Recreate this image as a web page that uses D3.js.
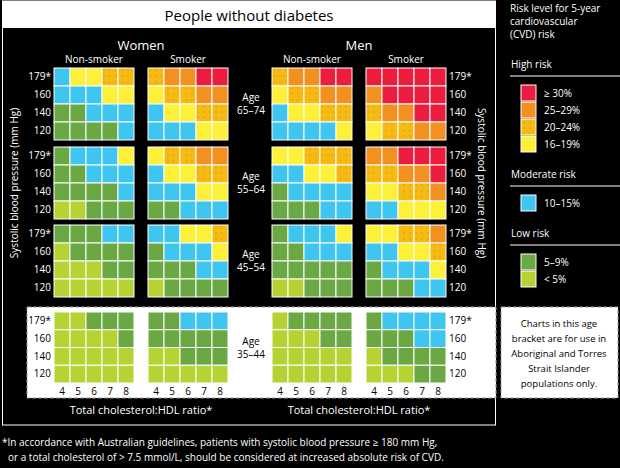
<!DOCTYPE html>
<html><head><meta charset="utf-8">
<script src="https://d3js.org/d3.v7.min.js"></script>
<style>body{margin:0;background:#000}text{font-family:"Open Sans",sans-serif}</style>
</head><body>
<div id="chart"></div>
<script>
// risk levels: 0 <5%, 1 5-9%, 2 10-15%, 3 16-19%, 4 20-24%, 5 25-29%, 6 >=30%
const levelColors = ["#b6d334", "#6aa844", "#3ec6f1", "#fdf038", "#f5bb12", "#f29020", "#ec1c3f"];
const ratios = [4, 5, 6, 7, 8];
const pressures = ["179*", "160", "140", "120"];
const ageBands = ["65–74", "55–64", "45–54", "35–44"];
const groups = ["Women non-smoker", "Women smoker", "Men non-smoker", "Men smoker"];

const risk6574 = [
  [[2,3,3,4,4],[2,2,2,3,3],[1,1,2,2,2],[1,1,1,1,2]],
  [[4,5,5,6,6],[3,4,4,5,5],[2,3,3,4,4],[2,2,2,3,3]],
  [[4,5,5,6,6],[3,4,4,5,5],[2,3,3,4,4],[2,2,2,2,3]],
  [[6,6,6,6,6],[5,6,6,6,6],[4,5,5,6,6],[3,4,4,5,5]]
];
const risk5564 = [
  [[1,2,2,2,3],[1,1,2,2,2],[1,1,1,1,2],[0,0,1,1,1]],
  [[3,4,4,5,5],[2,3,3,4,4],[2,2,2,3,3],[1,1,2,2,2]],
  [[3,3,4,4,4],[2,2,3,3,4],[1,2,2,2,2],[1,1,1,2,2]],
  [[5,5,6,6,6],[4,4,5,5,6],[3,3,4,4,5],[2,2,3,3,3]]
];
const risk4554 = [
  [[1,1,1,2,2],[0,1,1,1,1],[0,0,0,1,1],[0,0,0,0,0]],
  [[2,2,3,3,4],[1,2,2,2,3],[1,1,1,2,2],[0,1,1,1,1]],
  [[1,2,2,2,3],[1,1,2,2,2],[1,1,1,1,1],[0,0,1,1,1]],
  [[3,3,4,4,5],[2,2,3,3,4],[1,2,2,2,3],[1,1,1,2,2]]
];
const risk3544 = [
  [[0,0,1,1,1],[0,0,0,0,1],[0,0,0,0,0],[0,0,0,0,0]],
  [[1,1,2,2,2],[1,1,1,1,1],[0,0,1,1,1],[0,0,0,0,0]],
  [[0,1,1,1,1],[0,0,0,1,1],[0,0,0,0,0],[0,0,0,0,0]],
  [[1,2,2,2,2],[1,1,1,2,2],[0,1,1,1,1],[0,0,0,1,1]]
];
const bands = [risk6574, risk5564, risk4554, risk3544];

const legendHigh = ["≥ 30%", "25–29%", "20–24%", "16–19%"];
const legendMod = ["10–15%"];
const legendLow = ["5–9%", "< 5%"];

const W = 620, H = 468;
const svg = d3.select("#chart").append("svg").attr("width", W).attr("height", H);
const defs = svg.append("defs");
const pat = defs.append("pattern").attr("id", "dots").attr("width", 6).attr("height", 6)
  .attr("patternUnits", "userSpaceOnUse");
pat.append("rect").attr("width", 6).attr("height", 6).attr("fill", levelColors[4]);
pat.append("circle").attr("cx", 2).attr("cy", 2).attr("r", 0.6).attr("fill", "#e8641c");
const fillFor = l => l === 4 ? "url(#dots)" : levelColors[l];

// frame + title
svg.append("rect").attr("x", 2.5).attr("y", 1).attr("width", 493).attr("height", 424)
  .attr("fill", "none").attr("stroke", "#fff");
svg.append("rect").attr("x", 2.5).attr("y", 1).attr("width", 493).attr("height", 27).attr("fill", "#fff");
svg.append("text").attr("x", 249).attr("y", 21).attr("text-anchor", "middle")
  .attr("font-size", 15).attr("fill", "#000").text("People without diabetes");

// 35-44 box
svg.append("rect").attr("x", 27).attr("y", 307).attr("width", 469).attr("height", 91)
  .attr("fill", "#fff").attr("stroke", "#999").attr("stroke-dasharray", "4,2");

const panelX = [54, 148, 272, 366];
const bandY = [68, 147, 225, 312];
const pw = 80;
const bh = [72, 72, 72, 71];

const x = d3.scaleBand().domain(ratios).range([0, pw]);

bands.forEach((band, bi) => {
  const y = d3.scaleBand().domain(pressures).range([0, bh[bi]]);
  const light = bi === 3;
  band.forEach((grid, gi) => {
    const g = svg.append("g").attr("transform", `translate(${panelX[gi]},${bandY[bi]})`);
    const cells = [];
    grid.forEach((row, ri) => row.forEach((l, ci) => cells.push({p: pressures[ri], r: ratios[ci], l})));
    g.selectAll("rect").data(cells).join("rect")
      .attr("x", d => x(d.r)).attr("y", d => y(d.p))
      .attr("width", x.bandwidth()).attr("height", y.bandwidth())
      .attr("fill", d => fillFor(d.l)).attr("stroke", "#fff").attr("stroke-width", 1);
    if (light) {
      g.append("g").attr("transform", `translate(0,${bh[bi]})`)
        .call(d3.axisBottom(x).tickSize(0).tickPadding(5))
        .call(a => a.select(".domain").remove())
        .selectAll("text").attr("font-size", 10).attr("fill", "#000");
    }
  });
  const tc = light ? "#000" : "#fff";
  svg.append("g").attr("transform", `translate(${panelX[0]},${bandY[bi]})`)
    .call(d3.axisLeft(y).tickSize(0).tickPadding(3))
    .call(a => a.select(".domain").remove())
    .selectAll("text").attr("font-size", 10).attr("fill", tc);
  svg.append("g").attr("transform", `translate(${panelX[3] + pw},${bandY[bi]})`)
    .call(d3.axisRight(y).tickSize(0).tickPadding(3))
    .call(a => a.select(".domain").remove())
    .selectAll("text").attr("font-size", 10).attr("fill", tc);
  const ay = bandY[bi] + bh[bi] / 2;
  const at = svg.append("text").attr("text-anchor", "middle").attr("font-size", 10).attr("fill", tc);
  at.append("tspan").attr("x", 251).attr("y", ay - 3).text("Age");
  at.append("tspan").attr("x", 251).attr("y", ay + 10).text(ageBands[bi]);
});

// headers
const hdr = (t, xx, yy, s) => svg.append("text").attr("x", xx).attr("y", yy)
  .attr("text-anchor", "middle").attr("font-size", s).attr("fill", "#fff").text(t);
hdr("Women", 141, 50, 13); hdr("Men", 359, 50, 13);
hdr("Non-smoker", 94, 63, 10); hdr("Smoker", 188, 63, 10);
hdr("Non-smoker", 312, 63, 10); hdr("Smoker", 406, 63, 10);
hdr("Total cholesterol:HDL ratio*", 141, 414, 11); hdr("Total cholesterol:HDL ratio*", 359, 414, 11);
svg.append("text").attr("transform", "translate(18,183) rotate(-90)").attr("text-anchor", "middle")
  .attr("font-size", 10).attr("fill", "#fff").text("Systolic blood pressure (mm Hg)");
svg.append("text").attr("transform", "translate(478,183) rotate(90)").attr("text-anchor", "middle")
  .attr("font-size", 10).attr("fill", "#fff").text("Systolic blood pressure (mm Hg)");

// footnote
const fn = svg.append("text").attr("font-size", 10).attr("fill", "#fff");
fn.append("tspan").attr("x", 2).attr("y", 446)
  .text("*In accordance with Australian guidelines, patients with systolic blood pressure ≥ 180 mm Hg,");
fn.append("tspan").attr("x", 8).attr("y", 461)
  .text("or a total cholesterol of > 7.5 mmol/L, should be considered at increased absolute risk of CVD.");

// legend
const lg = svg.append("g").attr("transform", "translate(510,0)");
const lt = lg.append("text").attr("font-size", 10).attr("fill", "#fff");
["Risk level for 5-year", "cardiovascular", "(CVD) risk"].forEach((t, i) =>
  lt.append("tspan").attr("x", 0).attr("y", 12 + i * 13).text(t));
function legendGroup(title, y0, labels, levels) {
  lg.append("text").attr("x", 1).attr("y", y0).attr("font-size", 10).attr("fill", "#fff").text(title);
  lg.append("line").attr("x1", 0).attr("x2", 116).attr("y1", y0 + 8).attr("y2", y0 + 8)
    .attr("stroke", "#fff");
  labels.forEach((t, i) => {
    const yy = y0 + 17 + i * 17;
    lg.append("rect").attr("x", 11).attr("y", yy).attr("width", 15).attr("height", 16)
      .attr("fill", fillFor(levels[i])).attr("stroke", "#fff");
    lg.append("text").attr("x", 34).attr("y", yy + 12).attr("font-size", 10).attr("fill", "#fff").text(t);
  });
}
legendGroup("High risk", 68, legendHigh, [6, 5, 4, 3]);
legendGroup("Moderate risk", 178, legendMod, [2]);
legendGroup("Low risk", 237, legendLow, [1, 0]);

// note box
svg.append("rect").attr("x", 501).attr("y", 307).attr("width", 117).attr("height", 91)
  .attr("fill", "#fff").attr("stroke", "#999").attr("stroke-dasharray", "4,2");
const nt = svg.append("text").attr("text-anchor", "middle").attr("font-size", 9.5).attr("fill", "#000");
["Charts in this age", "bracket are for use in", "Aboriginal and Torres", "Strait Islander", "populations only."]
  .forEach((t, i) => nt.append("tspan").attr("x", 559).attr("y", 327 + i * 15).text(t));
</script>
</body></html>
